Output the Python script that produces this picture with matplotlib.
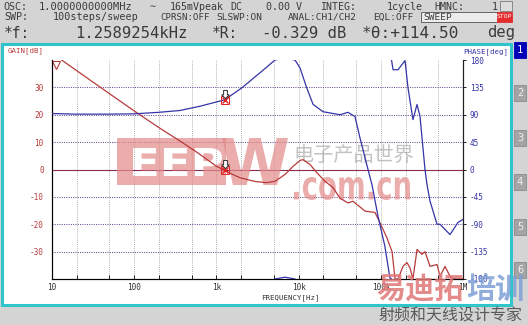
import numpy as np
import matplotlib
matplotlib.use("Agg")
import matplotlib.pyplot as plt
from matplotlib.patches import Rectangle, PathPatch
from matplotlib.path import Path
from matplotlib.textpath import TextPath
from matplotlib.font_manager import FontProperties
from matplotlib.transforms import Affine2D
from matplotlib.markers import MarkerStyle

plt.rcParams["axes.unicode_minus"] = False

# ---------------- data ----------------
gain_freq = [10, 13.1, 20, 50, 100, 117, 200, 378, 500, 631, 1000, 1259, 1550, 1940,
             2550, 3000, 4090, 5170, 6840, 8600, 10400, 11300, 13800, 16600, 20900,
             26200, 31900, 39900, 45900, 64300, 85000, 97800, 119000, 137000, 149000,
             162000, 186000, 208000, 227000, 246000, 276000, 317000, 345000, 397000,
             483000, 525000, 604000, 695000, 800000, 1000000]
gain_db = [42.8, 40, 36.1, 27.7, 21.4, 20, 15.3, 10, 7.6, 5.5, 1.2, -0.33, -1.7, -3.0,
           -3.9, -4.4, -4.8, -4.3, -1.8, 1.2, 3.3, 3.6, 1.8, -1.1, -4.3,
           -6.6, -10.5, -12.2, -11.6, -15.2, -15.7, -19.5, -25, -30, -40,
           -40, -35.4, -34, -36, -40, -29.2, -31, -30, -35.4,
           -34.7, -39, -35.4, -39, -40, -40]

phase_freq = [10, 20, 50, 100, 200, 360, 631, 1259, 2030, 3390, 5170, 6840, 9040,
              10400, 12500, 15000, 19800, 31900, 39900, 48500, 55800, 69900, 78100,
              92500, 112000, 129000, 135000, 141000, 162000, 197000, 214000, 246000,
              276000, 300000, 345000, 365000, 397000, 483000, 525000, 695000, 869000,
              1000000]
phase_deg = [92, 91, 91, 91.5, 94, 97, 104, 114.5, 134, 159, 180, 183, 180,
             167, 135, 107, 95, 90, 94, 87, 52, 0, -25,
             -77, -126, -178, -180, -196, -196, -181, -225, -278,
             -253, -273, -360, -385, -412, -450, -450, -467, -447,
             -442]

cursor_f = 1258.9254
cursor_gain = -0.329
cursor_phase = 114.50

x_major = [10, 100, 1e3, 1e4, 1e5, 1e6]
x_major_labels = ["10", "100", "1k", "10k", "100k", "1M"]
gain_ticks = [-30, -20, -10, 0, 10, 20, 30]
phase_ticks = [-180, -135, -90, -45, 0, 45, 90, 135, 180]

# ---------------- figure ----------------
W, H = 528, 325
fig = plt.figure(figsize=(W / 100, H / 100), dpi=100)
fig.patch.set_facecolor("#d4d4d4")

mono = "DejaVu Sans Mono"
RED = "#b83a3a"
BLUE = "#3434a8"
PINK = "#e48c8c"

# background overlay (pixel coords)
bg = fig.add_axes([0, 0, 1, 1], zorder=-5)
bg.set_xlim(0, W); bg.set_ylim(H, 0); bg.axis("off")
bg.add_patch(Rectangle((2, 44), 509, 261, facecolor="white", edgecolor="#30c4cc", lw=2.2))
# right buttons
btn_y = [50, 93, 138, 182, 227, 270]
for i, cy in enumerate(btn_y):
    fc = "#0000b8" if i == 0 else "#a4a4a4"
    tc = "white" if i == 0 else "#eeeeee"
    bg.add_patch(Rectangle((514, cy - 8), 12, 16, facecolor=fc, edgecolor="#8c8c8c" if i else fc, lw=0.6))
    bg.text(520, cy, str(i + 1), color=tc, fontsize=7.5, family=mono, ha="center", va="center")

# header text
hc = "#3a3a3a"
def ht(x, y, s, size=7.2, **kw):
    bg.text(x, y, s, fontsize=size, family=mono, color=kw.pop("color", hc), ha="left", va="center", **kw)

ht(3, 6.5, "OSC:")
ht(39, 6.5, "1.0000000000MHz", size=7.5)
ht(150, 6.5, "\u223c")
ht(170, 6.5, "165mVpeak")
ht(230, 6.5, "DC")
ht(266, 6.5, "0.00 V")
ht(320, 6.5, "INTEG:")
ht(387, 6.5, "1cycle")
ht(434, 6.5, "HMNC:")
ht(492, 6.5, "1")
bg.add_patch(Rectangle((500, 1), 12, 10, facecolor="#dcdcdc", edgecolor="#7a7a7a", lw=0.6))

ht(4, 17, "SWP:")
ht(53, 17, "100steps/sweep", size=7.3)
ht(160, 17, "CPRSN:OFF", size=6.6)
ht(216, 17, "SLSWP:ON", size=6.8)
ht(288, 17, "ANAL:CH1/CH2", size=6.8)
ht(373, 17, "EQL:OFF", size=6.8)
bg.add_patch(Rectangle((421, 12), 76, 10, facecolor="#ececec", edgecolor="#505050", lw=0.6))
ht(423, 17, "SWEEP", size=6.8)
bg.add_patch(Rectangle((497, 12), 15, 10, facecolor="#e42c2c", edgecolor="#e42c2c", lw=0.6))
bg.text(504.5, 17, "STOP", fontsize=4.6, family=mono, color="white", ha="center", va="center")

ht(4, 33, "*f:", size=10.5)
ht(75, 33, f"{cursor_f/1000:.7f}kHz", size=11.2)
ht(212, 33, "*R:", size=10.5)
ht(262, 33, f"{cursor_gain:.3f} dB", size=11.2)
ht(362, 33, f"*\u03b8:{cursor_phase:+.2f}", size=11.6)
ht(487, 33, "deg", size=11.2)

bg.text(8, 51, "GAIN[dB]", fontsize=5.3, family=mono, color=RED, ha="left", va="center")
bg.text(508, 52, "PHASE[deg]", fontsize=5.3, family=mono, color=BLUE, ha="right", va="center")
bg.text(290, 298, "FREQUENCY[Hz]", fontsize=5.3, family=mono, color="#303030", ha="center", va="center")

# ---------------- main axes ----------------
ax = fig.add_axes([52 / W, 1 - 279 / H, 411 / W, 219 / H])
ax.set_facecolor("none")
ax.set_xscale("log")
ax.set_xlim(10, 1e6)
ax.set_ylim(-40, 40)
for s in ["left", "right", "bottom"]:
    ax.spines[s].set_color("#202020"); ax.spines[s].set_linewidth(0.8)
ax.spines["top"].set_visible(False)

ax.set_xticks(x_major)
ax.set_xticklabels(x_major_labels)
minor = [m * 10 ** e for e in range(1, 6) for m in (2, 5)]
ax.set_xticks(minor, minor=True)
ax.xaxis.set_minor_formatter(plt.NullFormatter())
ax.tick_params(axis="x", which="both", direction="in", length=3, width=0.7, color="#202020",
               labelsize=5.6, labelcolor="#303030", pad=3)
for lab in ax.get_xticklabels():
    lab.set_family(mono)

ax.set_yticks(gain_ticks)
ax.tick_params(axis="y", length=0, labelsize=5.6, labelcolor=RED, pad=6)
for lab in ax.get_yticklabels():
    lab.set_family(mono)

# grid
for f in minor + x_major[1:-1]:
    ax.axvline(f, color="#9c9c9c", ls=(0, (1, 1.3)), lw=0.6, zorder=1)
for g in gain_ticks:
    if g == 0:
        ax.axhline(g, color="#8a2a55", lw=0.8, zorder=1)
    else:
        ax.axhline(g, color="#6c4c92", ls=(0, (1, 1.2)), lw=0.75, zorder=1)

# ---------------- watermarks inside plot (pixel coords, under the traces) ----------------
def text_path_fit(s, x0, y0, x1, y1, family="DejaVu Sans", weight="bold"):
    tp = TextPath((0, 0), s, size=1, prop=FontProperties(family=family, weight=weight))
    e = tp.get_extents()
    tr = Affine2D().translate(-e.x0, -e.y0).scale((x1 - x0) / e.width, -(y1 - y0) / e.height).translate(x0, y1)
    return tr.transform_path(tp)

def signed_area(poly):
    x, y = poly[:, 0], poly[:, 1]
    return 0.5 * np.sum(x * np.roll(y, -1) - np.roll(x, -1) * y)

# pink bar with "EEP" cut out
letters = text_path_fit("EEP", 133, 148, 222, 176)
polys = letters.to_polygons()
outer_sign = np.sign(max((signed_area(p) for p in polys), key=abs))
rx0, ry0, rx1, ry1 = 117, 138, 226, 185
rect = [(rx0, ry0), (rx1, ry0), (rx1, ry1), (rx0, ry1)]
rect_poly = np.array(rect + [rect[0]])
if np.sign(signed_area(rect_poly)) == outer_sign:
    rect_poly = rect_poly[::-1]
rect_path = Path(rect_poly, [Path.MOVETO] + [Path.LINETO] * 3 + [Path.CLOSEPOLY])
bar = Path.make_compound_path(rect_path, letters)
p1 = PathPatch(bar, facecolor=PINK, edgecolor="none", alpha=0.72, zorder=2)
p1.set_transform(bg.transData)
ax.add_patch(p1)
p2 = PathPatch(text_path_fit("W", 222, 138, 288, 185), facecolor=PINK, edgecolor="none", alpha=0.72, zorder=2)
p2.set_transform(bg.transData)
ax.add_patch(p2)
p3 = PathPatch(text_path_fit(".com.cn", 294, 177, 410, 200), facecolor=PINK, edgecolor="none", alpha=0.72, zorder=2)
p3.set_transform(bg.transData)
ax.add_patch(p3)
t_cn = ax.text(354, 155, "电子产品世界", fontsize=14.5, family=["Noto Sans CJK SC", "DejaVu Sans"],
               color="#9a9a9a", alpha=0.6, ha="center", va="center", zorder=2, transform=bg.transData)

# ---------------- traces ----------------
ax.plot(gain_freq, gain_db, color=RED, lw=0.9, zorder=3)

ax2 = ax.twinx()
ax2.set_ylim(-180, 180)
ax2.set_yticks(phase_ticks)
ax2.tick_params(axis="y", length=2, width=0.7, color="#202020", labelsize=5.6, labelcolor=BLUE, pad=3)
for lab in ax2.get_yticklabels():
    lab.set_family(mono)
ax2.spines["top"].set_visible(False)
ax2.spines["right"].set_color("#202020"); ax2.spines["right"].set_linewidth(0.8)
ph = np.array(phase_deg, dtype=float)
for k in (-1, 0, 1, 2):
    ax2.plot(phase_freq, ph + 360 * k, color=BLUE, lw=0.9, zorder=3)

# cursor markers
arrow = MarkerStyle([(-0.45, 2.4), (0.45, 2.4), (0.45, 1.35), (0.9, 1.35), (0, 0.45),
                     (-0.9, 1.35), (-0.45, 1.35), (-0.45, 2.4)])
for a, yv in ((ax, cursor_gain), (ax2, cursor_phase)):
    a.plot([cursor_f], [yv], marker="x", ms=5, mew=1.0, color="#e02020", zorder=6)
    a.plot([cursor_f], [yv], marker="s", ms=5.5, mew=0.7, mfc="none", color="#e02020", zorder=6)
    a.plot([cursor_f], [yv], marker=arrow, ms=14.5, mew=0.7, mfc="white", mec="#303030", zorder=6, ls="none")

# off-scale marker at top left
ax.plot([11.3], [38.3], marker="v", ms=6, mfc="none", mec=RED, mew=0.8, zorder=6)

# ---------------- watermarks at the bottom right ----------------
fg = fig.add_axes([0, 0, 1, 1], zorder=10)
fg.set_xlim(0, W); fg.set_ylim(H, 0); fg.axis("off"); fg.patch.set_alpha(0)
fg.text(376, 289, "易迪拓", fontsize=21, family=["Noto Sans CJK SC", "DejaVu Sans"], weight="bold",
        color="#e07878", alpha=0.85, ha="left", va="center")
fg.text(466, 289, "培训", fontsize=21, family=["Noto Sans CJK SC", "DejaVu Sans"], weight="bold",
        color="#7d9fd6", alpha=0.85, ha="left", va="center")
fg.text(378, 316, "射频和天线设计专家", fontsize=11.5, family=["Noto Sans CJK SC", "DejaVu Sans"],
        color="#5a5a5a", ha="left", va="center")

fig.savefig("out.png", dpi=100, facecolor=fig.get_facecolor())
